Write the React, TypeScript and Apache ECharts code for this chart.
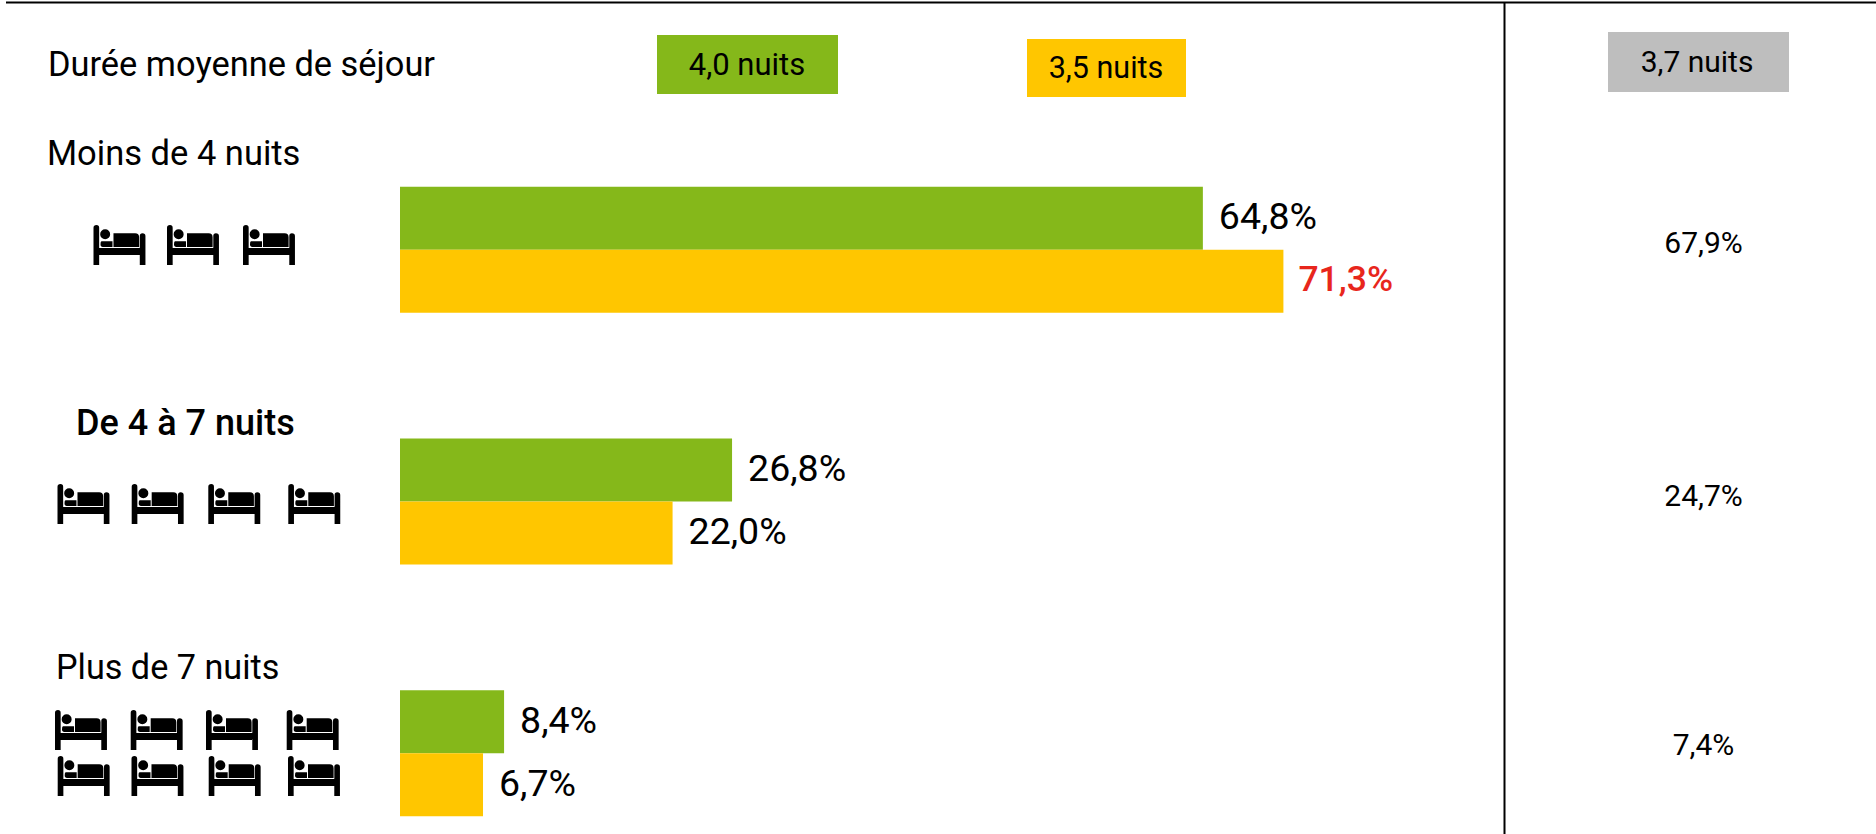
import React, { useEffect, useRef } from "react";
import * as echarts from "echarts";

const categories = ["Moins de 4 nuits", "De 4 à 7 nuits", "Plus de 7 nuits"];
const greenValues = [64.8, 26.8, 8.4];
const yellowValues = [71.3, 22.0, 6.7];
const totalLabels = ["67,9%", "24,7%", "7,4%"];
const stayLabels = ["4,0 nuits", "3,5 nuits", "3,7 nuits"];
const stayTitle = "Durée moyenne de séjour";

const GREEN = "#85B81A";
const YELLOW = "#FFC600";
const GREY = "#BEBEBE";
const FONT = "Roboto";

const BED_PATH =
  "M0 8Q0 0 9 0Q17 0 17 8V120H0Z" +
  "M139 33Q139 25 147 25Q156 25 156 33V120H139Z" +
  "M17 69H139V90H17Z" +
  "M20 28a15 15 0 1 0 30 0a15 15 0 1 0 -30 0Z" +
  "M24 49H57V66H28Q21 66 21 58Q21 49 24 49Z" +
  "M60 25H125Q137 25 137 37V66H60Z";

const bedSpots = [
  [93.5, 225], [167, 225], [243, 225],
  [57.5, 484], [131.7, 484], [208.3, 484], [288.3, 484],
  [55, 710], [130.7, 710], [206, 710], [286.7, 710],
  [57.7, 756], [131.5, 756], [208.7, 756], [288, 756],
];

const fmt = (v: number) => v.toFixed(1).replace(".", ",") + "%";

export default function App() {
  const ref = useRef<HTMLDivElement>(null);
  useEffect(() => {
    document.body.style.margin = "0";
    echarts.graphic.registerShape("bed", echarts.graphic.extendPath(BED_PATH, {}));
    const chart = echarts.init(ref.current!, undefined, { renderer: "svg" });
    const txt = (text: string, x: number, y: number, fontSize: number, extra: any = {}) => ({
      type: "text",
      x,
      y,
      style: { text, fontFamily: FONT, fontSize, fill: "#000", textVerticalAlign: "middle", verticalAlign: "middle", ...extra },
    });
    const box = (x: number, y: number, width: number, height: number, fill: string) => ({
      type: "rect",
      shape: { x, y, width, height },
      style: { fill },
    });
    const label = {
      show: true, position: "right", distance: 16, offset: [0, -2], fontFamily: FONT, fontSize: 37.5, color: "#000",
      formatter: (p: any) => fmt(p.value),
    };
    chart.setOption({
      animation: false,
      backgroundColor: "#fff",
      grid: { left: 400, top: 124, width: 1239, height: 755, containLabel: false, outerBoundsMode: "none" },
      xAxis: { type: "value", min: 0, max: 100, show: false },
      yAxis: { type: "category", inverse: true, data: categories, show: false },
      series: [
        {
          type: "bar",
          data: greenValues,
          barWidth: 63,
          barGap: "0%",
          silent: true,
          itemStyle: { color: GREEN },
          label,
        },
        {
          type: "bar",
          data: yellowValues.map((v, i) =>
            i === 0 ? { value: v, label: { color: "#E8261C", fontWeight: 500, fontSize: 35.5, distance: 15 } } : v
          ),
          barWidth: 63,
          silent: true,
          itemStyle: { color: YELLOW },
          label,
        },
      ],
      graphic: {
        elements: [
          { type: "line", shape: { x1: 6, y1: 2.5, x2: 1876, y2: 2.5 }, style: { stroke: "#000", lineWidth: 2 } },
          { type: "line", shape: { x1: 1504.5, y1: 2, x2: 1504.5, y2: 834 }, style: { stroke: "#000", lineWidth: 2 } },
          box(657, 35, 181, 59, GREEN),
          box(1027, 39, 159, 58, YELLOW),
          box(1608, 32, 181, 60, GREY),
          txt(stayTitle, 48, 64, 34.4),
          txt(stayLabels[0], 747, 64, 31, { align: "center", textAlign: "center" }),
          txt(stayLabels[1], 1106, 67, 30.5, { align: "center", textAlign: "center" }),
          txt(stayLabels[2], 1697, 61, 30, { align: "center", textAlign: "center" }),
          txt(categories[0], 47, 153, 34.5),
          txt(categories[1], 76, 423, 36, { fontWeight: 500 }),
          txt(categories[2], 56, 667, 34.2),
          ...totalLabels.map((t, i) =>
            txt(t, 1703.5, [242, 495.5, 744][i], 30, { align: "center", textAlign: "center" })
          ),
          ...bedSpots.map(([x, y]) => ({
            type: "bed",
            x,
            y,
            scaleX: 52 / 156,
            scaleY: 40 / 120,
            style: { fill: "#000" },
          })),
        ],
      },
    });
    return () => chart.dispose();
  }, []);
  return <div ref={ref} style={{ width: 1876, height: 834 }} />;
}
